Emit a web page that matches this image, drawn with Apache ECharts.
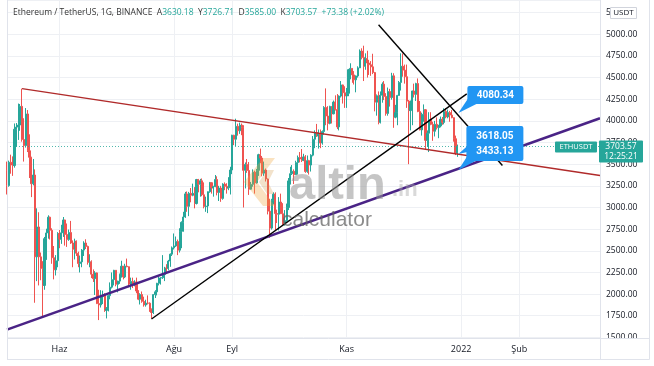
<!DOCTYPE html>
<html><head><meta charset="utf-8">
<script src="https://cdn.jsdelivr.net/npm/echarts@6/dist/echarts.min.js"></script>
<style>html,body{margin:0;padding:0;background:#fff;}#c{width:654px;height:366px;}</style>
</head><body><div id="c"></div>
<script>
// ---------- DATA (daily ETHUSDT, rows = [open, high, low, close]) ----------
const firstDay = '2021-05-04';
const dayCount = 317; // axis runs to 2022-03-16
const monthTicks = {'2021-06-01':'Haz','2021-08-01':'Ağu','2021-09-01':'Eyl','2021-11-01':'Kas','2022-01-01':'2022','2022-02-01':'Şub'};

const may21 = [[3431,3530,3150,3253],[3253,3541,3240,3522],[3522,3610,3390,3490],[3490,3590,3365,3484],[3484,3970,3460,3903],[3903,3975,3700,3928],[3928,4200,3780,3952],[3952,4195,3885,4168],[4168,4372,3760,3785],[3785,4030,3530,3715],[3715,4148,3692,4080],[4080,4125,3640,3655],[3655,3845,3340,3580],[3580,3585,3120,3274],[3274,3560,3256,3375],[3375,3440,1900,2430],[2430,2990,2150,2775],[2775,2945,2100,2430],[2430,2480,2160,2296],[2296,2380,1730,2100],[2100,2660,2050,2640],[2640,2755,2395,2706],[2706,2910,2640,2888],[2888,2895,2630,2737],[2737,2760,2350,2420],[2420,2555,2170,2280],[2280,2450,2215,2385],[2385,2715,2310,2700]];
const jun21 = [[2700,2740,2530,2634],[2634,2800,2580,2707],[2707,2890,2660,2856],[2856,2860,2560,2688],[2688,2815,2545,2630],[2630,2745,2615,2711],[2711,2845,2580,2590],[2590,2620,2310,2517],[2517,2640,2400,2610],[2610,2620,2440,2472],[2472,2490,2310,2353],[2353,2445,2250,2372],[2372,2520,2310,2508],[2508,2610,2440,2590],[2590,2633,2520,2550],[2550,2560,2340,2366],[2366,2460,2310,2372],[2372,2390,2185,2230],[2230,2285,2140,2178],[2178,2265,1990,2245],[2245,2250,1885,1890],[1890,2050,1700,1875],[1875,2045,1845,1971],[1971,2040,1885,1990],[1990,2010,1795,1812],[1812,1850,1719,1829],[1829,1990,1800,1982],[1982,2135,1940,2080],[2080,2250,2065,2167],[2167,2280,2100,2275]];
const jul21 = [[2275,2275,2090,2113],[2113,2155,2020,2150],[2150,2237,2118,2226],[2226,2385,2190,2322],[2322,2325,2170,2198],[2198,2350,2185,2323],[2323,2410,2310,2316],[2316,2320,2080,2116],[2116,2190,2050,2146],[2146,2190,2070,2113],[2113,2160,2090,2139],[2139,2190,2010,2036],[2036,2045,1930,1941],[1941,2010,1880,1995],[1995,2030,1900,1916],[1916,1970,1855,1875],[1875,1935,1855,1896],[1896,1985,1880,1895],[1895,1905,1795,1819],[1819,1835,1718,1787],[1787,2000,1770,1994],[1994,2045,1955,2026],[2026,2130,1985,2125],[2125,2200,2100,2186],[2186,2195,2110,2190],[2190,2450,2175,2227],[2227,2315,2150,2300],[2300,2345,2235,2298],[2298,2395,2275,2381],[2381,2470,2315,2461],[2461,2550,2440,2534]];
const aug21 = [[2534,2700,2515,2556],[2556,2665,2545,2607],[2607,2630,2450,2507],[2507,2760,2480,2725],[2725,2840,2530,2828],[2828,2950,2720,2890],[2890,3180,2880,3157],[3157,3185,2950,3013],[3013,3180,2900,3163],[3163,3225,3060,3141],[3141,3275,3130,3164],[3164,3235,2990,3046],[3046,3330,3035,3323],[3323,3330,3175,3267],[3267,3330,3125,3308],[3308,3335,3130,3147],[3147,3290,2990,3011],[3011,3125,2950,3017],[3017,3185,2935,3182],[3182,3295,3170,3286],[3286,3290,3160,3225],[3225,3250,3125,3240],[3240,3375,3235,3323],[3323,3360,3140,3173],[3173,3250,3075,3225],[3225,3250,3065,3105],[3105,3280,3090,3270],[3270,3290,3200,3244],[3244,3280,3160,3224],[3224,3350,3200,3227],[3227,3470,3150,3433]];
const sep21 = [[3433,3840,3385,3834],[3834,3840,3720,3788],[3788,4025,3710,3937],[3937,3968,3830,3886],[3886,3980,3850,3951],[3951,3970,3835,3926],[3926,3950,3000,3429],[3429,3520,3220,3497],[3497,3560,3400,3427],[3427,3525,3145,3211],[3211,3295,3205,3267],[3267,3440,3240,3408],[3408,3425,3160,3284],[3284,3445,3275,3429],[3429,3620,3365,3610],[3610,3680,3510,3571],[3571,3595,3360,3396],[3396,3530,3365,3433],[3433,3450,3300,3329],[3329,3335,2920,2958],[2958,3100,2650,2762],[2762,3100,2745,3077],[3077,3175,3035,3154],[3154,3175,2740,2930],[2930,2975,2820,2922],[2922,3120,2735,3063],[3063,3160,2930,2928],[2928,3050,2800,2806],[2806,2970,2790,2849],[2849,3045,2835,3000]];
const oct21 = [[3000,3340,2970,3307],[3307,3470,3265,3390],[3390,3490,3375,3418],[3418,3440,3270,3379],[3379,3540,3375,3518],[3518,3600,3380,3577],[3577,3640,3520,3560],[3560,3675,3525,3545],[3545,3620,3535,3584],[3584,3605,3400,3415],[3415,3600,3400,3541],[3541,3550,3380,3490],[3490,3615,3415,3604],[3604,3825,3590,3788],[3788,3890,3685,3865],[3865,3965,3815,3826],[3826,3900,3680,3846],[3846,3900,3685,3744],[3744,3890,3725,3877],[3877,4170,3840,4155],[4155,4375,3950,4056],[4056,4170,3890,3971],[3971,4175,3960,4167],[4167,4170,3970,4082],[4082,4235,4075,4217],[4217,4295,4120,4131],[4131,4310,3905,3930],[3930,4295,3890,4286],[4286,4460,4270,4415],[4415,4420,4200,4325],[4325,4400,4150,4287]];
const nov21 = [[4287,4380,4150,4319],[4319,4600,4285,4591],[4591,4665,4480,4606],[4606,4610,4440,4531],[4531,4575,4420,4474],[4474,4525,4330,4519],[4519,4630,4500,4612],[4612,4825,4610,4806],[4806,4838,4710,4732],[4732,4868,4460,4632],[4632,4780,4590,4722],[4722,4810,4500,4668],[4668,4705,4530,4648],[4648,4690,4520,4624],[4624,4775,4540,4558],[4558,4565,4110,4216],[4216,4305,4060,4290],[4290,4340,3960,3985],[3985,4340,3970,4296],[4296,4445,4210,4424],[4424,4460,4240,4282],[4282,4320,4060,4086],[4086,4385,4060,4339],[4339,4370,4165,4269],[4269,4555,4245,4520],[4520,4550,3920,4043],[4043,4185,4030,4095],[4095,4300,3950,4294],[4294,4460,4290,4444],[4444,4780,4350,4631]];
const dec21 = [[4631,4778,4510,4586],[4586,4650,4430,4510],[4510,4650,4150,4228],[4228,4240,3500,4119],[4119,4235,3890,4195],[4195,4350,3950,4345],[4345,4430,4270,4306],[4306,4440,4230,4431],[4431,4490,4100,4108],[4108,4230,3890,3896],[3896,4095,3830,4076],[4076,4190,3990,4128],[4128,4135,3665,3775],[3775,3890,3700,3858],[3858,4100,3640,4016],[4016,4100,3950,3960],[3960,3990,3770,3880],[3880,4000,3820,3960],[3960,4040,3900,3922],[3922,3955,3800,3941],[3941,4050,3925,4018],[4018,4045,3955,3982],[3982,4145,3960,4108],[4108,4145,4030,4046],[4046,4130,4030,4096],[4096,4115,3990,4067],[4067,4125,4030,4037],[4037,4040,3760,3794],[3794,3830,3605,3629],[3630.18,3726.71,3585.00,3703.57]];

const header = {o:'3630.18', h:'3726.71', l:'3585.00', c:'3703.57', chg:'+73.38 (+2.02%)'};
const lastPrice = 3703.57;
const countdown = '12:25:21';
const calloutDay = '2021-12-30';
const calloutTop = 4080.34;
const calloutMid = 3618.05;
const calloutLow = 3433.13;

// trend lines: [date, price] end points
const redLine    = [['2021-05-12', 4372], ['2022-03-16', 3370]];
const purpleLine = [['2021-05-04', 1590], ['2022-03-16', 4030]];
const blackUp    = [['2021-07-20', 1712], ['2022-01-04', 4311]];
const blackDown  = [['2021-11-18', 5110], ['2022-01-23', 3485]];

const yTicksMin = 1500, yTickStep = 250;

// ---------- BUILD ----------
const days = [];
(function(){ const p = firstDay.split('-').map(Number); let t = Date.UTC(p[0], p[1]-1, p[2]);
  for (let i = 0; i < dayCount; i++) { days.push(new Date(t + i*86400000).toISOString().slice(0,10)); } })();
const rows = [].concat(may21, jun21, jul21, aug21, sep21, oct21, nov21, dec21);
const candles = rows.map(r => [r[0], r[3], r[2], r[1]]);

const FONT = '"Open Sans", "DejaVu Sans", sans-serif';
const UP = '#26a69a', DOWN = '#ef5350', GRID = '#eef0f4', BORDER = '#e0e3eb', TXT = '#131722';
const isTick = (i, v) => monthTicks.hasOwnProperty(v);

const chart = echarts.init(document.getElementById('c'));
chart.setOption({
  animation: false,
  grid: {left: 7, right: 54, top: 0, bottom: 28.6},
  xAxis: {
    type: 'category', data: days, boundaryGap: false,
    axisLine: {show: false}, axisTick: {show: false},
    axisLabel: {interval: isTick, formatter: v => monthTicks[v] || '', color: TXT, fontSize: 9, fontFamily: FONT, margin: 8},
    splitLine: {show: true, interval: isTick, lineStyle: {color: GRID, width: 1}}
  },
  yAxis: {
    type: 'value', position: 'right', min: yTicksMin, max: 5395.7, interval: yTickStep, scale: true,
    axisLine: {show: false}, axisTick: {show: false},
    axisLabel: {color: TXT, fontSize: 8.5, fontFamily: FONT, margin: 6, align: 'left',
      formatter: v => (Math.abs(v % yTickStep) < 1e-6 ? v.toFixed(2) : '')},
    splitLine: {lineStyle: {color: GRID, width: 1}}
  },
  series: [
    {type: 'candlestick', data: candles, barWidth: 1.6,
     itemStyle: {color: UP, color0: DOWN, borderColor: UP, borderColor0: DOWN, borderWidth: 1},
     markLine: {silent: true, symbol: 'none', label: {show: false},
       lineStyle: {type: [1, 2], color: UP, width: 1, opacity: 0.8},
       data: [{yAxis: lastPrice}]}, z: 3},
    {type: 'line', data: redLine, symbol: 'none', lineStyle: {color: '#b02a2a', width: 1.4}, z: 4, silent: true},
    {type: 'line', data: purpleLine, symbol: 'none', lineStyle: {color: '#4a2386', width: 2.6}, z: 4, silent: true},
    {type: 'line', data: blackUp, symbol: 'none', lineStyle: {color: '#000', width: 1.4}, z: 4, silent: true},
    {type: 'line', data: blackDown, symbol: 'none', lineStyle: {color: '#000', width: 1.4}, z: 4, silent: true}
  ]
});

const px = (d, v) => chart.convertToPixel({xAxisIndex: 0, yAxisIndex: 0}, [d, v]);
const g = [];
const line = (x1, y1, x2, y2, c) => ({type: 'line', z: 101, silent: true, shape: {x1, y1, x2, y2}, style: {stroke: c || BORDER, lineWidth: 1}});
const txt = (x, y, text, font, fill, align, z) => ({type: 'text', z: z || 102, silent: true,
  style: {x, y, text, font, fill, align: align || 'left', textAlign: align || 'left', verticalAlign: 'middle', textVerticalAlign: 'middle'}});

// cover lower half of bottom price label, frame
g.push({type: 'rect', z: 100, silent: true, shape: {x: 601, y: 339, width: 48, height: 21}, style: {fill: '#fff'}});
g.push(line(7, 338.5, 649.5, 338.5));
g.push(line(7, 359.5, 649.5, 359.5));
g.push(line(7.5, 0, 7.5, 359.5));
g.push(line(600.5, 0, 600.5, 359.5));
g.push(line(649.5, 0, 649.5, 359.5));
// USDT box
g.push({type: 'rect', z: 101, silent: true, shape: {x: 610.5, y: 7.5, width: 26, height: 11}, style: {fill: '#fff', stroke: '#d1d4dc', lineWidth: 1}});
g.push(txt(623.5, 13.2, 'USDT', '8px ' + FONT, TXT, 'center'));

// header
g.push({type: 'text', z: 102, silent: true, style: {x: 13, y: 13, fill: '#333', font: '8.5px ' + FONT, verticalAlign: 'middle', textVerticalAlign: 'middle',
  text: 'Ethereum / TetherUS, 1G, BINANCE  {k|A}{v|' + header.o + '}  {k|Y}{v|' + header.h + '}  {k|D}{v|' + header.l + '}  {k|K}{v|' + header.c + '}  {v|' + header.chg + '}',
  rich: {k: {fill: '#333', font: '8.5px ' + FONT}, v: {fill: UP, font: '8.5px ' + FONT}}}});

// watermark
g.push({type: 'polygon', z: 20, silent: true, shape: {points: [[263,158],[244,182],[263,206],[275,206],[257,182],[275,158]]}, style: {fill: 'rgba(240,165,60,0.32)'}});
g.push({type: 'polygon', z: 20, silent: true, shape: {points: [[267,170],[259,182],[267,194],[274,194],[268,182],[274,170]]}, style: {fill: 'rgba(210,150,70,0.28)'}});
g.push({type: 'text', z: 20, silent: true, style: {x: 289, y: 186, text: 'altin', font: 'bold 47px "Liberation Sans", Arial, sans-serif', fill: 'rgba(150,150,150,0.55)', verticalAlign: 'middle', textVerticalAlign: 'middle'}});
g.push({type: 'text', z: 20, silent: true, style: {x: 392, y: 190, text: '.in', font: 'bold 22px "Liberation Sans", Arial, sans-serif', fill: 'rgba(170,170,170,0.45)', verticalAlign: 'middle', textVerticalAlign: 'middle'}});
g.push({type: 'text', z: 20, silent: true, style: {x: 282, y: 220, text: 'calculator', font: '21px "Liberation Sans", Arial, sans-serif', fill: 'rgba(100,100,100,0.75)', verticalAlign: 'middle', textVerticalAlign: 'middle'}});

// last price labels
const lp = px(days[rows.length - 1], lastPrice);
g.push({type: 'rect', z: 101, silent: true, shape: {x: 555, y: lp[1] - 5, width: 42, height: 11, r: 1}, style: {fill: UP}});
g.push(txt(576, lp[1] + 0.5, 'ETHUSDT', '7.5px ' + FONT, '#fff', 'center'));
g.push({type: 'rect', z: 103, silent: true, shape: {x: 599, y: lp[1] - 6, width: 44, height: 22, r: 1}, style: {fill: UP}});
g.push(txt(621, lp[1] + 0.5, header.c, '8.5px ' + FONT, '#fff', 'center', 104));
g.push(txt(621, lp[1] + 10, countdown, '8.5px ' + FONT, '#fff', 'center', 104));

// callouts
const BLUE = '#2196f3';
const a1 = px(calloutDay, calloutTop), a2 = px(calloutDay, calloutMid), a3 = px(calloutDay, calloutLow);
const b1 = {x: a1[0] + 10, y: a1[1] - 28, w: 56, h: 18};
g.push({type: 'polygon', z: 110, silent: true, shape: {points: [[a1[0] + 1, a1[1] - 1], [b1.x + 1, b1.y + b1.h - 6], [b1.x + 9, b1.y + b1.h]]}, style: {fill: BLUE}});
g.push({type: 'rect', z: 110, silent: true, shape: {x: b1.x, y: b1.y, width: b1.w, height: b1.h, r: 2}, style: {fill: BLUE}});
g.push(txt(b1.x + b1.w / 2, b1.y + b1.h / 2 + 0.5, calloutTop.toFixed(2), 'bold 10px Roboto, sans-serif', '#fff', 'center', 111));
const b2 = {x: a2[0] + 9, y: a2[1] - 28, w: 57, h: a3[1] - a2[1] + 19};
g.push({type: 'polygon', z: 110, silent: true, shape: {points: [[a2[0] + 1, a2[1]], [b2.x + 1, a2[1] - 8], [b2.x + 1, a2[1] - 2]]}, style: {fill: BLUE}});
g.push({type: 'polygon', z: 110, silent: true, shape: {points: [[a3[0] + 1, a3[1]], [b2.x + 1, b2.y + b2.h - 5], [b2.x + 9, b2.y + b2.h]]}, style: {fill: BLUE}});
g.push({type: 'rect', z: 110, silent: true, shape: {x: b2.x, y: b2.y, width: b2.w, height: b2.h, r: 2}, style: {fill: BLUE}});
g.push(txt(b2.x + b2.w / 2, b2.y + 10.5, calloutMid.toFixed(2), 'bold 10px Roboto, sans-serif', '#fff', 'center', 111));
g.push(txt(b2.x + b2.w / 2, b2.y + 25.5, calloutLow.toFixed(2), 'bold 10px Roboto, sans-serif', '#fff', 'center', 111));

chart.setOption({graphic: g});
</script></body></html>
